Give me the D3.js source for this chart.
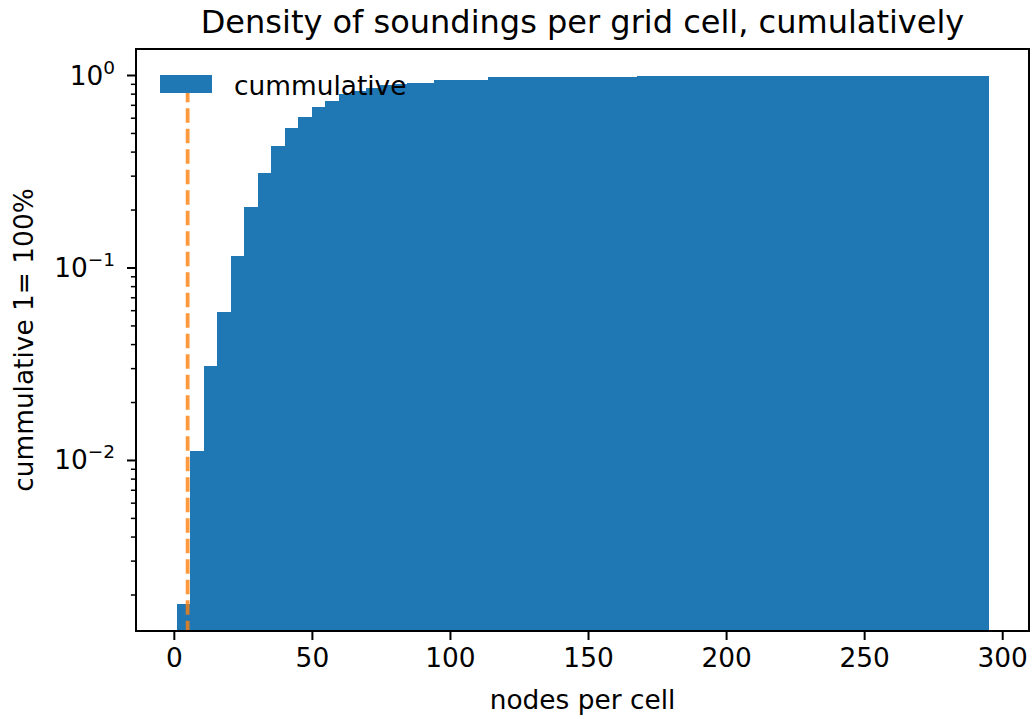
<!DOCTYPE html>
<html>
<head>
<meta charset="utf-8">
<script src="https://cdn.jsdelivr.net/npm/d3@7"></script>
<style>
  body { margin: 0; background: #fff; }
  text { font-family: "DejaVu Sans", sans-serif; fill: #000; }
</style>
</head>
<body>
<div id="chart-area"></div>
<script>
// histogram: 60 equal bins between binLow and binHigh, cumulative share per bin
var binLow = 1;
var binHigh = 295;
var cumValues = [
	0.0018, 0.0112, 0.031, 0.059, 0.116, 0.207, 0.31, 0.43, 0.535, 0.61,
	0.69, 0.74, 0.80, 0.835, 0.865, 0.888, 0.905, 0.914, 0.917, 0.948,
	0.948, 0.948, 0.948, 0.986, 0.986, 0.986, 0.986, 0.986, 0.986, 0.986,
	0.986, 0.986, 0.986, 0.986, 1.0, 1.0, 1.0, 1.0, 1.0, 1.0,
	1.0, 1.0, 1.0, 1.0, 1.0, 1.0, 1.0, 1.0, 1.0, 1.0,
	1.0, 1.0, 1.0, 1.0, 1.0, 1.0, 1.0, 1.0, 1.0, 1.0
];
var threshold = 5;   // orange dashed line
var xTicks = [0, 50, 100, 150, 200, 250, 300];
var yMajor = [0, -1, -2];   // exponents
var legendLabel = "cummulative";

var margin = { top: 49, right: 4, bottom: 88, left: 136 };
var fullW = 1033, fullH = 719;
var width = fullW - margin.left - margin.right;
var height = fullH - margin.top - margin.bottom;
var fs = "26.4px";

var svg = d3.select("#chart-area")
	.append("svg")
		.attr("width", fullW)
		.attr("height", fullH);
var g = svg.append("g")
	.attr("transform", "translate(" + margin.left + "," + margin.top + ")");

var x = d3.scaleLinear()
	.domain([-13.7, 309.7])
	.range([0, width]);

var y = d3.scaleLog()
	.domain([Math.pow(10, -2.886), Math.pow(10, 0.1377)])
	.range([height, 0]);

var nBins = cumValues.length;
var step = (binHigh - binLow) / nBins;
var bars = cumValues.map(function(v, i){
	return { x0: binLow + i * step, x1: binLow + (i + 1) * step, v: v };
});

svg.append("clipPath").attr("id", "plot-clip")
	.append("rect").attr("width", width).attr("height", height);

var plot = g.append("g").attr("clip-path", "url(#plot-clip)");

plot.selectAll("rect.bar")
	.data(bars)
	.enter()
	.append("rect")
		.attr("class", "bar")
		.attr("x", function(d){ return x(d.x0); })
		.attr("width", function(d){ return x(d.x1) - x(d.x0) + 0.6; })
		.attr("y", function(d){ return y(d.v); })
		.attr("height", function(d){ return height - y(d.v); })
		.attr("shape-rendering", "crispEdges")
		.attr("fill", "#1f77b4");

plot.append("line")
	.attr("x1", x(threshold)).attr("x2", x(threshold))
	.attr("y1", y(1)).attr("y2", height)
	.attr("stroke", "#ff7f0e")
	.attr("stroke-opacity", 0.8)
	.attr("stroke-width", 3.8)
	.attr("stroke-dasharray", "14.5,6")
	.attr("stroke-dashoffset", 8.3);

// x axis
var bottomAxis = d3.axisBottom(x)
	.tickValues(xTicks)
	.tickSize(9)
	.tickPadding(8)
	.tickFormat(d3.format("d"));
var xa = g.append("g")
	.attr("class", "bottom axis")
	.attr("transform", "translate(0," + height + ")")
	.call(bottomAxis);
xa.select(".domain").remove();
xa.selectAll("line").attr("stroke", "#000").attr("stroke-width", 2);
xa.selectAll("text")
	.attr("font-size", fs)
	.attr("font-family", "DejaVu Sans")
	.attr("fill", "#000");

// y axis: minor ticks
var minor = [];
[-3, -2, -1].forEach(function(e){
	for (var m = 2; m <= 9; m++) {
		var v = m * Math.pow(10, e);
		if (v >= y.domain()[0] && v <= y.domain()[1]) minor.push(v);
	}
});
g.selectAll("line.minor")
	.data(minor)
	.enter()
	.append("line")
		.attr("class", "minor")
		.attr("x1", -5.1).attr("x2", 0)
		.attr("y1", function(d){ return y(d); })
		.attr("y2", function(d){ return y(d); })
		.attr("stroke", "#000")
		.attr("stroke-width", 1.5);

var maj = g.selectAll("g.ytick")
	.data(yMajor)
	.enter()
	.append("g")
		.attr("class", "ytick")
		.attr("transform", function(d){ return "translate(0," + y(Math.pow(10, d)) + ")"; });
maj.append("line")
	.attr("x1", -9).attr("x2", 0)
	.attr("stroke", "#000")
	.attr("stroke-width", 2);
var lab = maj.append("text")
	.attr("x", -21)
	.attr("y", 9)
	.attr("text-anchor", "end")
	.attr("font-size", fs);
lab.append("tspan").text("10");
lab.append("tspan")
	.attr("dy", -11)
	.attr("font-size", "18.5px")
	.text(function(d){ return d === 0 ? "0" : "\u2212" + (-d); });

// spines
g.append("rect")
	.attr("width", width).attr("height", height)
	.attr("fill", "none")
	.attr("stroke", "#000")
	.attr("stroke-width", 2);

// legend
g.append("rect")
	.attr("x", 160 - margin.left).attr("y", 75 - margin.top)
	.attr("width", 52).attr("height", 18)
	.attr("fill", "#1f77b4");
g.append("text")
	.attr("x", 234 - margin.left)
	.attr("y", 95 - margin.top)
	.attr("font-size", fs)
	.text(legendLabel);

// labels
g.append("text")
	.attr("x", width / 2)
	.attr("y", 709 - margin.top)
	.attr("text-anchor", "middle")
	.attr("font-size", fs)
	.text("nodes per cell");

g.append("text")
	.attr("transform", "rotate(-90)")
	.attr("x", -(height / 2))
	.attr("y", 33 - margin.left)
	.attr("text-anchor", "middle")
	.attr("font-size", fs)
	.text("cummulative 1= 100%");

g.append("text")
	.attr("x", width / 2)
	.attr("y", 33 - margin.top)
	.attr("text-anchor", "middle")
	.attr("font-size", "32px")
	.text("Density of soundings per grid cell, cumulatively");
</script>
</body>
</html>
